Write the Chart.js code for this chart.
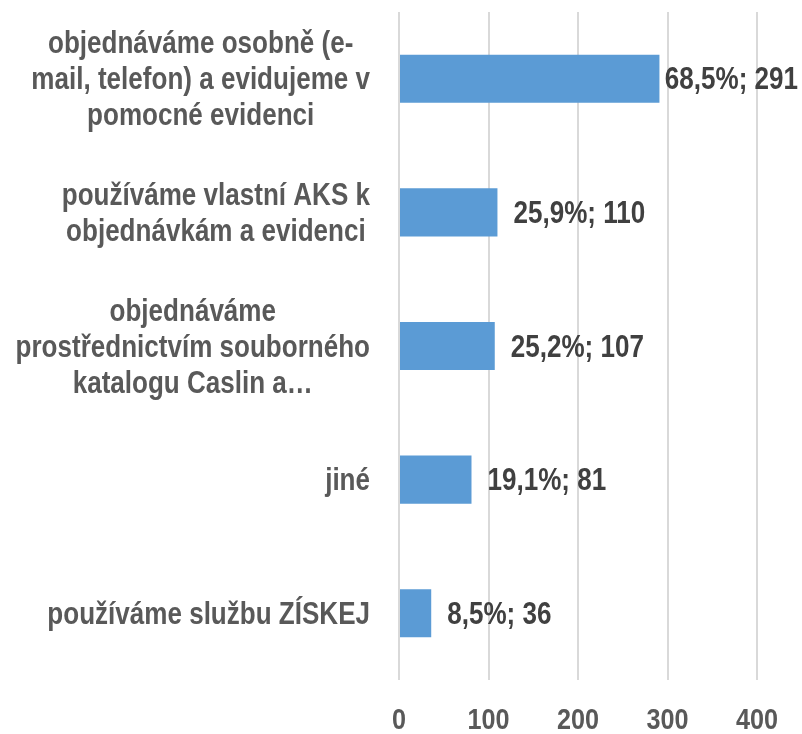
<!DOCTYPE html>
<html>
<head>
<meta charset="utf-8">
<script src="https://cdn.jsdelivr.net/npm/chart.js@4"></script>
<style>
    body { margin: 0; background: #fff; }
    #graficoObjednavky { display: block; }
</style>
</head>
<body>
<canvas id="graficoObjednavky" width="802" height="734"></canvas>
<script>
const kategorie = [
    ['objednáváme osobně (e-', 'mail, telefon) a evidujeme v', 'pomocné evidenci'],
    ['používáme vlastní AKS k', 'objednávkám a evidenci'],
    ['objednáváme', 'prostřednictvím souborného', 'katalogu Caslin a…'],
    ['jiné'],
    ['používáme službu ZÍSKEJ']
];
const pocty = [291, 110, 107, 81, 36];
const procenta = ['68,5%', '25,9%', '25,2%', '19,1%', '8,5%'];
const tickyX = [0, 100, 200, 300, 400];

// Arial Narrow neni k dispozici -> Liberation Sans zuzeny transformaci
const fonte = '"Liberation Sans", Arial, sans-serif';
const zuzeni = 0.84;

function textUzky(ctx, text, x, y, zarovnani) {
    const w = ctx.measureText(text).width * zuzeni;
    let x0 = x;
    if (zarovnani === 'center') x0 = x - w / 2;
    if (zarovnani === 'right') x0 = x - w;
    ctx.save();
    ctx.translate(x0, y);
    ctx.scale(zuzeni, 1);
    ctx.textAlign = 'left';
    ctx.fillText(text, 0, 0);
    ctx.restore();
    return w;
}

// popisky kategorii - centrovane radky, blok zarovnany doprava
const popiskyKategorii = {
    id: 'popiskyKategorii',
    afterDraw(chart) {
        const ctx = chart.ctx;
        const y = chart.scales.y;
        const x = chart.scales.x;
        ctx.save();
        ctx.font = 'bold 31px ' + fonte;
        ctx.fillStyle = '#595959';
        ctx.textBaseline = 'middle';
        for (let i = 0; i < kategorie.length; i++) {
            const radky = kategorie[i];
            let maxW = 0;
            radky.forEach(r => { maxW = Math.max(maxW, ctx.measureText(r).width * zuzeni); });
            const stredX = 370 - maxW / 2;
            const stredY = y.getPixelForTick(i);
            radky.forEach((r, j) => {
                textUzky(ctx, r, stredX, stredY + (j - (radky.length - 1) / 2) * 36 + 2, 'center');
            });
        }
        // popisky osy x
        ctx.font = 'bold 30px ' + fonte;
        tickyX.forEach(v => {
            textUzky(ctx, String(v), x.getPixelForValue(v), 721, 'center');
        });
        ctx.restore();
    }
};

// popisky hodnot za sloupci
const popiskyHodnot = {
    id: 'popiskyHodnot',
    afterDatasetsDraw(chart) {
        const ctx = chart.ctx;
        const meta = chart.getDatasetMeta(0);
        ctx.save();
        ctx.font = 'bold 31px ' + fonte;
        ctx.fillStyle = '#404040';
        ctx.textBaseline = 'middle';
        meta.data.forEach((bar, i) => {
            const text = procenta[i] + '; ' + pocty[i];
            const w = ctx.measureText(text).width * zuzeni;
            const x = Math.min(bar.x + 16, chart.width - w - 4);
            textUzky(ctx, text, x, bar.y + 2, 'left');
        });
        ctx.restore();
    }
};

const dados = {
    labels: kategorie,
    datasets: [{
        data: pocty,
        backgroundColor: '#5B9BD5',
        borderWidth: 0,
        barPercentage: 0.72,
        categoryPercentage: 0.5
    }]
};

const config = {
    type: 'bar',
    data: dados,
    options: {
        indexAxis: 'y',
        responsive: false,
        animation: false,
        layout: {
            padding: { left: 399, top: 12, right: 45, bottom: 0 }
        },
        plugins: {
            legend: { display: false },
            tooltip: { enabled: false }
        },
        scales: {
            x: {
                min: 0,
                max: 400,
                afterBuildTicks(scale) {
                    scale.ticks = tickyX.map(v => ({ value: v }));
                },
                afterFit(scale) {
                    scale.height = 54;
                },
                grid: {
                    color: '#D9D9D9',
                    lineWidth: 2,
                    drawTicks: false
                },
                border: { display: false },
                ticks: { display: false }
            },
            y: {
                afterFit(scale) {
                    scale.width = 0;
                },
                grid: { display: false },
                border: { display: false },
                ticks: { display: false }
            }
        }
    },
    plugins: [popiskyKategorii, popiskyHodnot]
};

let grafico = new Chart(document.getElementById('graficoObjednavky'), config);
</script>
</body>
</html>
